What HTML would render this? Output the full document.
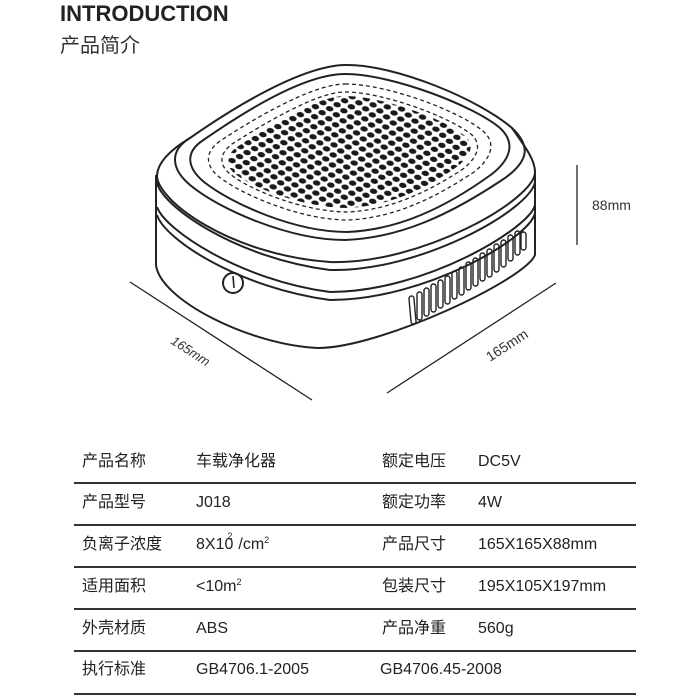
<!DOCTYPE html>
<html><head><meta charset="utf-8"><style>
body{margin:0;width:700px;height:700px;background:#fff;overflow:hidden;position:relative;font-family:"Liberation Sans","Noto Sans CJK SC",sans-serif;color:#222}
.t{position:absolute;white-space:nowrap;font-size:16px;line-height:1}
.l{position:absolute;left:74px;width:562px;height:1.5px;background:#333}
</style></head><body>
<div class="t" style="left:60px;top:3px;font-size:22px;font-weight:bold;color:#222">INTRODUCTION</div>
<div class="t" style="left:60px;top:36px;font-size:20px;color:#333">产品简介</div>
<svg width="700" height="700" style="position:absolute;left:0;top:0">
<defs>
<pattern id="dots" width="8.5" height="8.5" patternUnits="userSpaceOnUse" patternTransform="rotate(-28) skewX(20)">
<circle cx="4.25" cy="4.25" r="3.1" fill="#1a1a1a"/></pattern>
</defs>
<g fill="none" stroke="#222" stroke-width="2">
<path d="M345,65 C395,64 480,100 512,128 C530,145 530,160 505,178 C450,215 400,238 345,240 C290,240 220,210 190,185 C170,168 170,150 190,138 C230,110 300,66 345,65Z"/>
<path d="M345,74 C392,74 474,106 500,128 C515,142 512,158 492,174 C445,208 398,230 347,232 C295,232 232,204 204,182 C186,167 186,152 202,141 C238,116 302,74 345,74Z"/>
<path d="M190,138 C170,150 158,162 157,175 C156,200 230,255 330,262 C420,265 535,200 535,172 C535,160 526,148 512,128"/>
<path d="M157,182 C160,205 235,258 330,270 C420,272 530,210 535,182"/>
<path d="M157,207 C165,230 240,280 330,292 C425,292 530,228 535,205"/>
<path d="M157,215 C165,240 240,288 330,300 C425,300 530,238 535,213"/>
<path d="M156,175 L156,265 C160,300 250,345 318,348 C380,348 525,280 535,255 L535,170"/>
<circle cx="233" cy="283" r="10"/>
<path d="M233,276 L234,288" stroke-width="1.6"/>
</g>
<g fill="none" stroke="#222" stroke-width="1.3" stroke-dasharray="4 3">
<path d="M345,84 C388,84 462,112 484,132 C496,143 492,158 474,172 C432,200 392,218 348,220 C300,220 240,194 218,176 C204,164 206,151 220,141 C252,120 312,84 345,84Z"/>
<path d="M345,92 C384,92 452,118 472,135 C482,145 478,157 463,169 C425,194 388,210 348,212 C304,212 250,190 230,174 C218,164 220,153 232,144 C262,125 316,92 345,92Z"/>
</g>
<rect x="0" y="0" width="700" height="700" fill="url(#dots)" style="clip-path:path('M345,96 C382,96 448,120 466,137 C475,146 470,156 458,166 C422,192 386,206 348,208 C304,208 252,188 234,173 C224,164 226,155 237,147 C266,128 316,96 345,96Z')"/>
<g fill="none" stroke="#222" stroke-width="1.4">
<rect x="410" y="296" width="5" height="28" rx="2.5" transform="rotate(-5 412 310)"/>
<rect x="417" y="292" width="5" height="28" rx="2.5"/>
<rect x="424" y="288" width="5" height="28" rx="2.5"/>
<rect x="431" y="284" width="5" height="28" rx="2.5"/>
<rect x="438" y="280" width="5" height="28" rx="2.5"/>
<rect x="445" y="276" width="5" height="28" rx="2.5"/>
<rect x="452" y="271" width="5" height="28" rx="2.5"/>
<rect x="459" y="267" width="5" height="28" rx="2.5"/>
<rect x="466" y="262" width="5" height="28" rx="2.5"/>
<rect x="473" y="258" width="5" height="28" rx="2.5"/>
<rect x="480" y="253" width="5" height="28" rx="2.5"/>
<rect x="487" y="249" width="5" height="28" rx="2.5"/>
<rect x="494" y="244" width="5" height="28" rx="2.5"/>
<rect x="501" y="240" width="5" height="27" rx="2.5"/>
<rect x="508" y="235" width="5" height="26" rx="2.5"/>
<rect x="515" y="231" width="5" height="24" rx="2.5"/>
<rect x="521" y="232" width="5" height="18" rx="2.5"/>
</g>
<g stroke="#222" stroke-width="1.3">
<line x1="130" y1="282" x2="312" y2="400"/>
<line x1="387" y1="393" x2="556" y2="283"/>
<line x1="577" y1="165" x2="577" y2="245"/>
</g>
<text x="0" y="0" font-size="13" fill="#333" font-family="Liberation Sans, sans-serif" transform="translate(170,343) rotate(33)" font-style="italic">165mm</text>
<text x="0" y="0" font-size="14" fill="#333" font-family="Liberation Sans, sans-serif" transform="translate(490,362) rotate(-33)">165mm</text>
<text x="592" y="210" font-size="14" fill="#333" font-family="Liberation Sans, sans-serif">88mm</text>
</svg>
<div class="l" style="top:482px"></div>
<div class="l" style="top:524px"></div>
<div class="l" style="top:566px"></div>
<div class="l" style="top:608px"></div>
<div class="l" style="top:650px"></div>
<div class="l" style="top:693px"></div>
<div class="t" style="left:82px;top:454px">产品名称</div><div class="t" style="left:196px;top:454px">车载净化器</div><div class="t" style="left:382px;top:454px">额定电压</div><div class="t" style="left:478px;top:454px">DC5V</div>
<div class="t" style="left:82px;top:495px">产品型号</div><div class="t" style="left:196px;top:495px">J018</div><div class="t" style="left:382px;top:495px">额定功率</div><div class="t" style="left:478px;top:495px">4W</div>
<div class="t" style="left:82px;top:537px">负离子浓度</div><div class="t" style="left:196px;top:537px">8X10<span style="font-size:9px;position:relative;top:-10px;left:-6px">2</span>/cm<span style="font-size:9px;position:relative;top:-6px">2</span></div><div class="t" style="left:382px;top:537px">产品尺寸</div><div class="t" style="left:478px;top:537px">165X165X88mm</div>
<div class="t" style="left:82px;top:579px">适用面积</div><div class="t" style="left:196px;top:579px">&lt;10m<span style="font-size:9px;position:relative;top:-6px">2</span></div><div class="t" style="left:382px;top:579px">包装尺寸</div><div class="t" style="left:478px;top:579px">195X105X197mm</div>
<div class="t" style="left:82px;top:621px">外壳材质</div><div class="t" style="left:196px;top:621px">ABS</div><div class="t" style="left:382px;top:621px">产品净重</div><div class="t" style="left:478px;top:621px">560g</div>
<div class="t" style="left:82px;top:662px">执行标准</div><div class="t" style="left:196px;top:662px">GB4706.1-2005</div><div class="t" style="left:380px;top:662px">GB4706.45-2008</div>
</body></html>
